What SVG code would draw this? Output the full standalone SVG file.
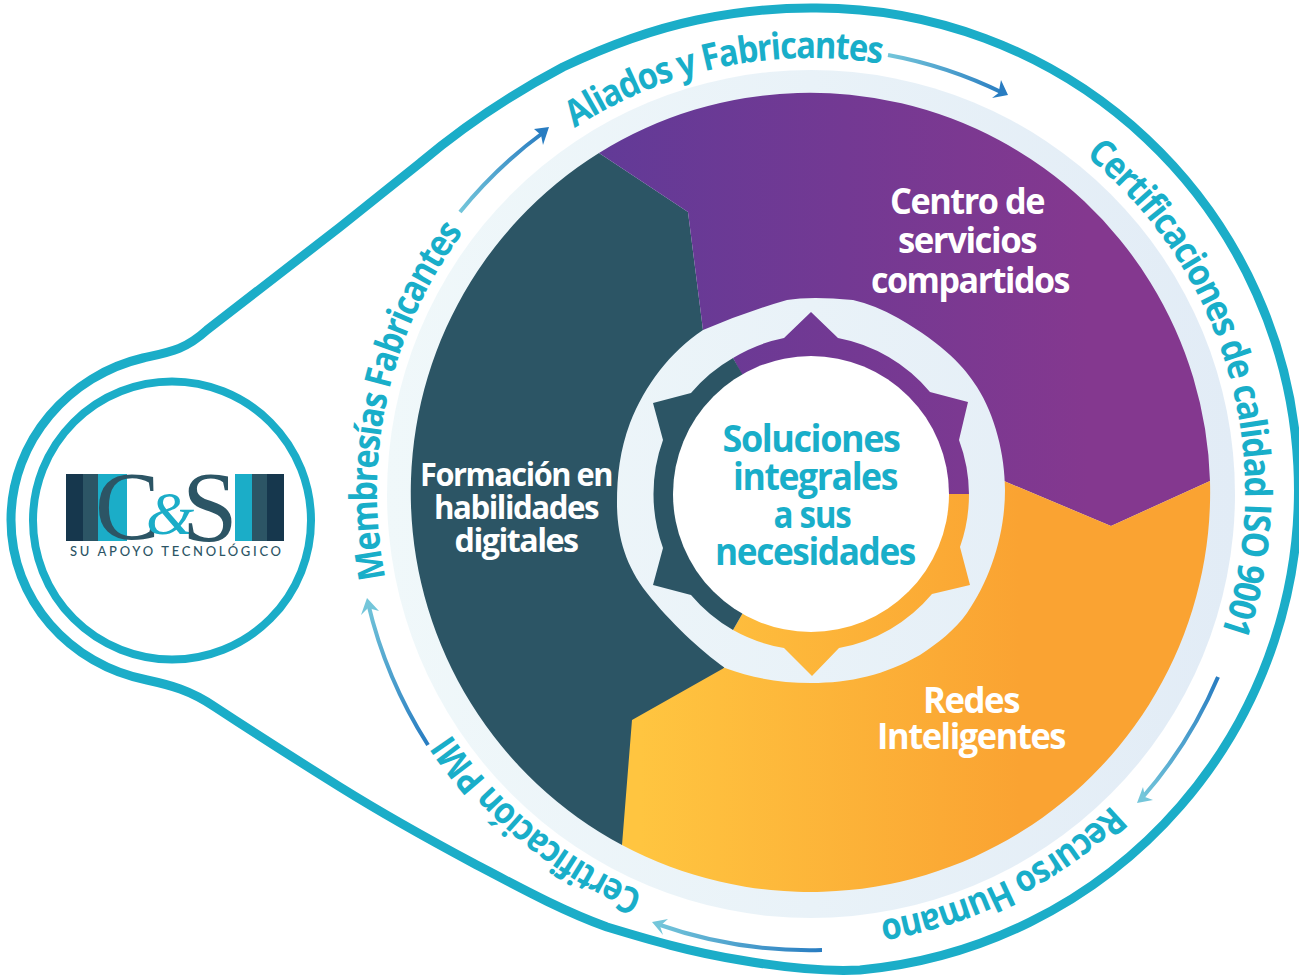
<svg xmlns="http://www.w3.org/2000/svg" xmlns:xlink="http://www.w3.org/1999/xlink" width="1299" height="978" viewBox="0 0 1299 978">
<style>
text{font-family:"Open Sans","Noto Sans",sans-serif;font-weight:700}
.w{fill:#fff;text-anchor:middle;letter-spacing:-1.500px}
.t{fill:#19aec9;text-anchor:middle;letter-spacing:-1.500px}
.r{fill:#19aec9;font-size:37px;letter-spacing:-1.500px}
.l{fill:none;stroke:#1badc8}
.a{fill:none;stroke-width:4}
.s{font-family:"Liberation Serif",serif;font-weight:400}
</style>
<defs>
<linearGradient id="gp" gradientUnits="userSpaceOnUse" x1="600" y1="0" x2="1210" y2="0"><stop offset="0" stop-color="#623a97"/><stop offset="0.8" stop-color="#84388f"/><stop offset="1" stop-color="#84388f"/></linearGradient>
<linearGradient id="go" gradientUnits="userSpaceOnUse" x1="640" y1="0" x2="1020" y2="0"><stop offset="0" stop-color="#ffc540"/><stop offset="1" stop-color="#faa332"/></linearGradient>
<linearGradient id="gb" gradientUnits="userSpaceOnUse" x1="387" y1="0" x2="1235" y2="0"><stop offset="0" stop-color="#f0f8fa"/><stop offset="1" stop-color="#e2ecf6"/></linearGradient>
<linearGradient id="a1" gradientUnits="userSpaceOnUse" x1="460" y1="212" x2="545" y2="130"><stop offset="0" stop-color="#74c6da"/><stop offset="1" stop-color="#287cc1"/></linearGradient>
<linearGradient id="a2" gradientUnits="userSpaceOnUse" x1="888" y1="55" x2="1005" y2="93"><stop offset="0" stop-color="#74c6da"/><stop offset="1" stop-color="#287cc1"/></linearGradient>
<linearGradient id="a3" gradientUnits="userSpaceOnUse" x1="1218" y1="677" x2="1140" y2="800"><stop offset="0" stop-color="#287cc1"/><stop offset="1" stop-color="#74c6da"/></linearGradient>
<linearGradient id="a4" gradientUnits="userSpaceOnUse" x1="822" y1="950" x2="655" y2="925"><stop offset="0" stop-color="#287cc1"/><stop offset="1" stop-color="#74c6da"/></linearGradient>
<linearGradient id="a5" gradientUnits="userSpaceOnUse" x1="428" y1="745" x2="367" y2="600"><stop offset="0" stop-color="#287cc1"/><stop offset="1" stop-color="#74c6da"/></linearGradient>
<path id="ring" d="M811 926A434 434 0 1 1 811 58A434 434 0 1 1 811 926"/>
</defs>
<rect width="1299" height="978" fill="#fff"/>
<path id="outline" class="l" stroke-width="9" d="M811 8A482 482 0 0 1 860 970C820 972 780 967 740 960C690 952 650 940 607 927C560 910 515 885 473 863C430 840 385 815 340 787C300 762 250 730 215 707C190 690 170 685 147 680C70 665 11 600 11 520C11 440 70 375 143 358C170 352 185 350 207 330C250 297 295 262 340 227C370 203 395 183 420 163C465 125 510 95 563 67C605 47 650 30 697 20C735 12 775 8 811 8Z"/>
<circle id="band" cx="811" cy="494" r="424" fill="url(#gb)"/>
<g id="node-formacion">
<path fill="#2c5565" d="M599 153A400 400 0 0 0 622 845L724 668L811 494L703 330L688 212Z"/>
</g>
<g id="node-centro">
<path fill="url(#gp)" d="M599 153A400 400 0 0 1 1210 481L1111 526L1004 481L811 494L703 330L688 212Z"/>
</g>
<g id="node-redes">
<path fill="url(#go)" d="M622 845A400 400 0 0 0 1210 481L1111 526L1004 481L811 494L724 668L632 720Z"/>
</g>
<path id="hub-band" fill="url(#gb)" d="M703 330Q745 312 787 300Q811 296 853 300Q875 305 898 318C945 345 965 368 977 387C995 415 1005 455 1005 490C1005 535 990 580 967 613C955 630 938 643 920 655C885 675 850 683 811 683C780 683 752 678 725 668C700 650 670 622 647 593C625 565 617 535 617 503C617 475 620 450 630 423C645 385 670 352 703 330Z"/>
<g id="hub-gear">
<path fill="url(#gp)" d="M733 358A158 158 0 0 1 784 338L811 312L838 338A158 158 0 0 1 930 392L968 402L959 440A158 158 0 0 1 969 494L811 494L741 373Z"/>
<path fill="url(#go)" d="M969 494A158 158 0 0 1 960 547L970 585L932 594A158 158 0 0 1 839 648L812 676L784 648A158 158 0 0 1 733 630L811 494Z"/>
<path fill="#2c5565" d="M733 630A158 158 0 0 1 691 595L653 585L663 548A158 158 0 0 1 663 440L653 403L691 393A158 158 0 0 1 733 358L811 494Z"/>
</g>
<g id="node-center">
<circle cx="811" cy="494" r="138" fill="#fff"/>
<text class="t" font-size="38"><tspan x="811" y="452" textLength="177" lengthAdjust="spacingAndGlyphs">Soluciones</tspan><tspan x="815" y="490" textLength="164" lengthAdjust="spacingAndGlyphs">integrales</tspan><tspan x="812" y="528" textLength="77" lengthAdjust="spacingAndGlyphs">a sus</tspan><tspan x="815" y="565" textLength="200" lengthAdjust="spacingAndGlyphs">necesidades</tspan></text>
</g>
<g id="labels">
<text class="w" font-size="35"><tspan x="967" y="214" textLength="154" lengthAdjust="spacingAndGlyphs">Centro de</tspan><tspan x="967" y="253" textLength="138" lengthAdjust="spacingAndGlyphs">servicios</tspan><tspan x="970" y="293" textLength="198" lengthAdjust="spacingAndGlyphs">compartidos</tspan></text>
<text class="w" font-size="32"><tspan x="516" y="486" textLength="192" lengthAdjust="spacingAndGlyphs">Formación en</tspan><tspan x="516" y="519" textLength="164" lengthAdjust="spacingAndGlyphs">habilidades</tspan><tspan x="516" y="552" textLength="123" lengthAdjust="spacingAndGlyphs">digitales</tspan></text>
<text class="w" font-size="36"><tspan x="971" y="713" textLength="96" lengthAdjust="spacingAndGlyphs">Redes</tspan><tspan x="971" y="749" textLength="188" lengthAdjust="spacingAndGlyphs">Inteligentes</tspan></text>
</g>
<g id="ring-labels">
<text class="r"><textPath xlink:href="#ring" href="#ring" startOffset="172" textLength="252" lengthAdjust="spacingAndGlyphs">Certificación PMI</textPath></text>
<text class="r"><textPath xlink:href="#ring" href="#ring" startOffset="595" textLength="364" lengthAdjust="spacingAndGlyphs">Membresías Fabricantes</textPath></text>
<text class="r"><textPath xlink:href="#ring" href="#ring" startOffset="1113" textLength="320" lengthAdjust="spacingAndGlyphs">Aliados y Fabricantes</textPath></text>
<text class="r"><textPath xlink:href="#ring" href="#ring" startOffset="1660" textLength="526" lengthAdjust="spacingAndGlyphs">Certificaciones de calidad ISO 9001</textPath></text>
<text class="r"><textPath xlink:href="#ring" href="#ring" startOffset="2394" textLength="262" lengthAdjust="spacingAndGlyphs">Recurso Humano</textPath></text>
</g>
<g id="connectors">
<path class="a" stroke="url(#a1)" d="M460 212A449 449 0 0 1 544 132"/>
<polygon fill="#287cc1" points="549,127 534,129 541,135 543,145"/>
<path class="a" stroke="url(#a2)" d="M888 55A443 443 0 0 1 1003 93"/>
<polygon fill="#287cc1" points="1008,95 1001,80 998.500,93 992,98"/>
<path class="a" stroke="url(#a3)" d="M1218 677A448 448 0 0 1 1142 798"/>
<polygon fill="#74c6da" points="1137,803 1143,787 1145,797 1153,800"/>
<path class="a" stroke="url(#a4)" d="M822 950A458 458 0 0 1 657 924"/>
<polygon fill="#74c6da" points="652,922 668,919 660,926 663,935"/>
<path class="a" stroke="url(#a5)" d="M428 745A458 458 0 0 1 368 603"/>
<polygon fill="#74c6da" points="367,598 361,615 368,608 379,611"/>
</g>
<g id="node-logo">
<circle class="l" cx="172" cy="520.500" r="139" stroke-width="8" fill="#fff"/>
<rect x="66" y="474" width="17" height="67" fill="#16374d"/>
<rect x="83" y="474" width="15" height="67" fill="#2c5565"/>
<rect x="98" y="474" width="29" height="67" fill="#1badc8"/>
<rect x="235" y="474" width="17" height="67" fill="#1badc8"/>
<rect x="252" y="474" width="15" height="67" fill="#2c5565"/>
<rect x="267" y="474" width="17" height="67" fill="#16374d"/>
<text class="s" x="95" y="539" font-size="97" fill="#2c5565">C<tspan x="146" y="534" font-size="62" font-style="italic" fill="#1badc8">&amp;</tspan><tspan x="182" y="540" font-size="100">S</tspan></text>
<text x="70" y="556" font-size="13" fill="#2c5565" textLength="211" style="font-family:'Lato',sans-serif;font-weight:500">SU APOYO TECNOLÓGICO</text>
</g>
</svg>
